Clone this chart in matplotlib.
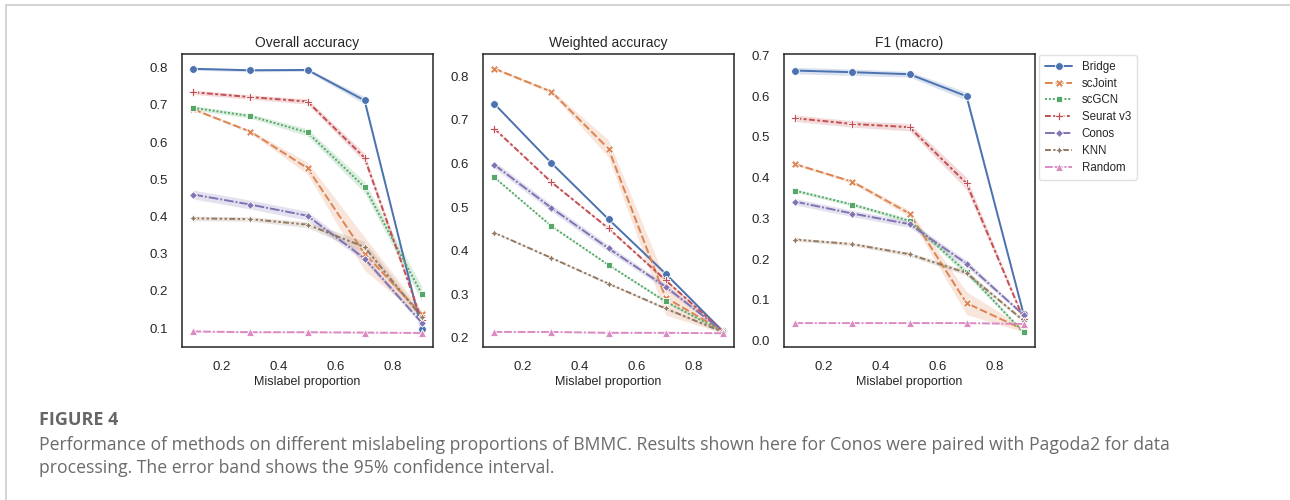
import matplotlib
matplotlib.use("Agg")
import matplotlib.pyplot as plt
from matplotlib.lines import Line2D
import numpy as np
import seaborn as sns

sns.set_theme(style="white")
plt.rcParams["font.family"] = ["Liberation Sans", "DejaVu Sans"]

proportions = [0.1, 0.3, 0.5, 0.7, 0.9]
methods = ["Bridge", "scJoint", "scGCN", "Seurat v3", "Conos", "KNN", "Random"]

overall_mean = {
    "Bridge":    [0.797, 0.793, 0.794, 0.712, 0.097],
    "scJoint":   [0.688, 0.628, 0.530, 0.300, 0.138],
    "scGCN":     [0.692, 0.670, 0.626, 0.479, 0.193],
    "Seurat v3": [0.734, 0.721, 0.709, 0.558, 0.122],
    "Conos":     [0.459, 0.432, 0.402, 0.287, 0.115],
    "KNN":       [0.395, 0.393, 0.378, 0.318, 0.130],
    "Random":    [0.091, 0.089, 0.089, 0.088, 0.087],
}
overall_err = {
    "Bridge":    [0.004, 0.004, 0.004, 0.010, 0.004],
    "scJoint":   [0.003, 0.004, 0.016, 0.045, 0.010],
    "scGCN":     [0.006, 0.006, 0.010, 0.015, 0.020],
    "Seurat v3": [0.006, 0.006, 0.007, 0.012, 0.006],
    "Conos":     [0.012, 0.012, 0.012, 0.008, 0.006],
    "KNN":       [0.006, 0.006, 0.008, 0.015, 0.008],
    "Random":    [0.002, 0.002, 0.002, 0.002, 0.002],
}

weighted_mean = {
    "Bridge":    [0.737, 0.601, 0.472, 0.347, 0.215],
    "scJoint":   [0.818, 0.765, 0.634, 0.292, 0.216],
    "scGCN":     [0.568, 0.456, 0.367, 0.283, 0.214],
    "Seurat v3": [0.680, 0.557, 0.451, 0.332, 0.215],
    "Conos":     [0.597, 0.498, 0.405, 0.317, 0.215],
    "KNN":       [0.441, 0.383, 0.324, 0.267, 0.213],
    "Random":    [0.213, 0.213, 0.211, 0.211, 0.210],
}
weighted_err = {
    "Bridge":    [0.002, 0.002, 0.002, 0.003, 0.002],
    "scJoint":   [0.003, 0.004, 0.020, 0.040, 0.006],
    "scGCN":     [0.002, 0.002, 0.002, 0.003, 0.002],
    "Seurat v3": [0.002, 0.002, 0.003, 0.003, 0.002],
    "Conos":     [0.008, 0.008, 0.008, 0.006, 0.002],
    "KNN":       [0.002, 0.002, 0.002, 0.003, 0.002],
    "Random":    [0.001, 0.001, 0.001, 0.001, 0.001],
}

f1_mean = {
    "Bridge":    [0.663, 0.659, 0.654, 0.600, 0.065],
    "scJoint":   [0.433, 0.390, 0.312, 0.092, 0.027],
    "scGCN":     [0.368, 0.334, 0.294, 0.168, 0.020],
    "Seurat v3": [0.546, 0.532, 0.524, 0.386, 0.053],
    "Conos":     [0.341, 0.312, 0.286, 0.189, 0.063],
    "KNN":       [0.248, 0.237, 0.212, 0.166, 0.049],
    "Random":    [0.043, 0.043, 0.043, 0.043, 0.041],
}
f1_err = {
    "Bridge":    [0.008, 0.008, 0.007, 0.010, 0.004],
    "scJoint":   [0.003, 0.004, 0.008, 0.028, 0.006],
    "scGCN":     [0.004, 0.004, 0.006, 0.008, 0.003],
    "Seurat v3": [0.008, 0.008, 0.009, 0.015, 0.004],
    "Conos":     [0.008, 0.008, 0.008, 0.008, 0.004],
    "KNN":       [0.004, 0.004, 0.005, 0.006, 0.004],
    "Random":    [0.001, 0.001, 0.001, 0.001, 0.001],
}

panels = [
    ("Overall accuracy", overall_mean, overall_err),
    ("Weighted accuracy", weighted_mean, weighted_err),
    ("F1 (macro)", f1_mean, f1_err),
]

colors = sns.color_palette("deep", len(methods))
markers = ["o", "X", (4, 0, 45), "P", (4, 0, 0), (4, 1, 0), "^"]
dashes = [
    (None, None),
    (4, 1.5),
    (1, 1),
    (3, 1.25, 1.5, 1.25),
    (5, 1, 1, 1),
    (3, 1.25, 1.25, 1.25, 1.25, 1.25),
    (4, 1, 4, 1, 1, 1),
]

fig = plt.figure(figsize=(12.9, 5), dpi=100)
lefts = [182, 483, 784]
ax_w, ax_top, ax_bot = 251, 54, 347

lw, ms = 1.4, 5.6
for (title, means, errs), left in zip(panels, lefts):
    ax = fig.add_axes([left / 1290, 1 - ax_bot / 500, ax_w / 1290, (ax_bot - ax_top) / 500])
    for i, m in enumerate(methods):
        y = np.array(means[m])
        e = np.array(errs[m])
        ax.fill_between(proportions, y - e, y + e, color=colors[i], alpha=0.2, lw=0)
        line, = ax.plot(proportions, y, color=colors[i], lw=lw, marker=markers[i],
                        ms=ms, mec="w", mew=0.6, label=m)
        if dashes[i][0] is not None:
            line.set_dashes(dashes[i])
    ax.set_title(title, fontsize=10, pad=5, color="#262626")
    ax.set_xlabel("Mislabel proportion", fontsize=9, labelpad=2, color="#262626")
    ax.set_xticks([0.2, 0.4, 0.6, 0.8])
    ax.tick_params(labelsize=9.5, pad=4, colors="#262626")
    for s in ax.spines.values():
        s.set_color("#262626")
        s.set_linewidth(1.1)

handles = []
for i, m in enumerate(methods):
    h = Line2D([], [], color=colors[i], lw=lw, marker=markers[i], ms=ms,
               mec="w", mew=0.6, label=m)
    if dashes[i][0] is not None:
        h.set_dashes(dashes[i])
    handles.append(h)
fig.legend(handles=handles, loc="upper left", bbox_to_anchor=(1039 / 1290, 1 - 55 / 500),
           borderaxespad=0, fontsize=8.3, frameon=True, handlelength=2.4,
           labelspacing=0.42, borderpad=0.5, handletextpad=0.8,
           edgecolor="#d9d9d9", fancybox=True)

# figure frame lines (top and left)
fig.add_artist(Line2D([6 / 1290, 1], [1 - 5 / 500, 1 - 5 / 500], color="#cccccc", lw=1.2))
fig.add_artist(Line2D([6 / 1290, 6 / 1290], [0, 1 - 5 / 500], color="#cccccc", lw=1.2))

cap_font = ["Open Sans", "DejaVu Sans"]
cap_x = 39 / 1290
fig.text(cap_x, 1 - 425 / 500, "FIGURE 4", fontsize=13, fontweight="bold",
         color="#666666", va="baseline", family=cap_font)
fig.text(cap_x, 1 - 450 / 500,
         "Performance of methods on different mislabeling proportions of BMMC. Results shown here for "
         "Conos were paired with Pagoda2 for data",
         fontsize=12.7, color="#6b6b6b", va="baseline", family=cap_font)
fig.text(cap_x, 1 - 473 / 500,
         "processing. The error band shows the 95% confidence interval.",
         fontsize=12.7, color="#6b6b6b", va="baseline", family=cap_font)

fig.savefig("out.png", dpi=100)
